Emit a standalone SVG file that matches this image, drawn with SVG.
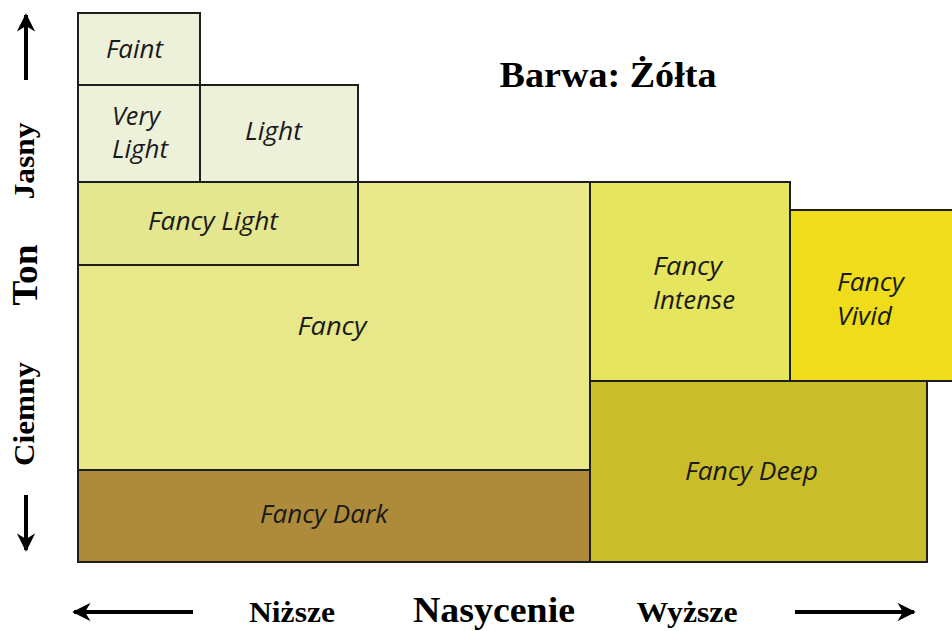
<svg xmlns="http://www.w3.org/2000/svg" width="952" height="631" viewBox="0 0 952 631">
<defs>
<style>
.box{stroke:#1e1e1e;stroke-width:2}
.lbl{font-family:"Open Sans","Noto Sans",sans-serif;font-style:italic;font-weight:500;font-size:25px;fill:#1a1a1a}
.ser{font-family:"Liberation Serif","Times New Roman",serif;font-weight:bold;fill:#000}
.ax{stroke:#000;stroke-width:4;fill:none}
</style>
<marker id="ah" viewBox="0 0 10 10" refX="9" refY="5" markerWidth="4.6" markerHeight="4.6" markerUnits="strokeWidth" orient="auto">
<path d="M0,0 L10,5 L0,10 L3,5 Z" fill="#000"/>
</marker>
</defs>
<rect width="952" height="631" fill="#fff"/>

<g id="fancy"><rect class="box" x="78" y="182" width="512" height="288" fill="#e8e88a"/>
<text class="lbl" x="332" y="335" text-anchor="middle" textLength="69" lengthAdjust="spacingAndGlyphs">Fancy</text></g>

<g id="faint"><rect class="box" x="78" y="13" width="122" height="72" fill="#edf1da"/>
<text class="lbl" x="106" y="58" textLength="57" lengthAdjust="spacingAndGlyphs">Faint</text></g>

<g id="very-light"><rect class="box" x="78" y="85" width="122" height="97" fill="#edf1da"/>
<text class="lbl" x="112" y="125" textLength="48" lengthAdjust="spacingAndGlyphs">Very</text>
<text class="lbl" x="112" y="158" textLength="56" lengthAdjust="spacingAndGlyphs">Light</text></g>

<g id="light"><rect class="box" x="200" y="85" width="158" height="97" fill="#edf1da"/>
<text class="lbl" x="245" y="140" textLength="57" lengthAdjust="spacingAndGlyphs">Light</text></g>

<g id="fancy-light"><rect class="box" x="78" y="182" width="280" height="83" fill="#e4e690"/>
<text class="lbl" x="148" y="230" textLength="130" lengthAdjust="spacingAndGlyphs">Fancy Light</text></g>

<g id="fancy-dark"><rect class="box" x="78" y="470" width="512" height="92" fill="#ae8a3b"/>
<text class="lbl" x="260" y="523" textLength="128" lengthAdjust="spacingAndGlyphs">Fancy Dark</text></g>

<g id="fancy-intense"><rect class="box" x="590" y="182" width="200" height="199" fill="#e6e55f"/>
<text class="lbl" x="653" y="275" textLength="69" lengthAdjust="spacingAndGlyphs">Fancy</text>
<text class="lbl" x="653" y="309" textLength="82" lengthAdjust="spacingAndGlyphs">Intense</text></g>

<g id="fancy-vivid"><rect class="box" x="790" y="210" width="170" height="171" fill="#efdd1b"/>
<text class="lbl" x="837" y="291" textLength="67" lengthAdjust="spacingAndGlyphs">Fancy</text>
<text class="lbl" x="837" y="325" textLength="55" lengthAdjust="spacingAndGlyphs">Vivid</text></g>

<g id="fancy-deep"><rect class="box" x="590" y="381" width="337" height="181" fill="#cabd2b"/>
<text class="lbl" x="685" y="480" textLength="133" lengthAdjust="spacingAndGlyphs">Fancy Deep</text></g>

<g id="title"><text class="ser" x="608" y="87" font-size="35" text-anchor="middle" textLength="217" lengthAdjust="spacingAndGlyphs">Barwa: Żółta</text></g>

<g id="axis-labels">
<text class="ser" font-size="30" transform="translate(34,161) rotate(-90)" text-anchor="middle" textLength="77" lengthAdjust="spacingAndGlyphs">Jasny</text>
<text class="ser" font-size="35" transform="translate(37,275) rotate(-90)" text-anchor="middle" textLength="61" lengthAdjust="spacingAndGlyphs">Ton</text>
<text class="ser" font-size="30" transform="translate(34,414) rotate(-90)" text-anchor="middle" textLength="104" lengthAdjust="spacingAndGlyphs">Ciemny</text>
<text class="ser" x="292" y="622" font-size="29" text-anchor="middle" textLength="86" lengthAdjust="spacingAndGlyphs">Niższe</text>
<text class="ser" x="494" y="622" font-size="35" text-anchor="middle" textLength="162" lengthAdjust="spacingAndGlyphs">Nasycenie</text>
<text class="ser" x="687" y="622" font-size="29" text-anchor="middle" textLength="101" lengthAdjust="spacingAndGlyphs">Wyższe</text>
</g>

<g id="connectors">
<line class="ax" x1="26" y1="80" x2="26" y2="15" marker-end="url(#ah)"/>
<line class="ax" x1="26" y1="495" x2="26" y2="550" marker-end="url(#ah)"/>
<line class="ax" x1="193" y1="612" x2="74" y2="612" marker-end="url(#ah)"/>
<line class="ax" x1="795" y1="612" x2="914" y2="612" marker-end="url(#ah)"/>
</g>
</svg>
